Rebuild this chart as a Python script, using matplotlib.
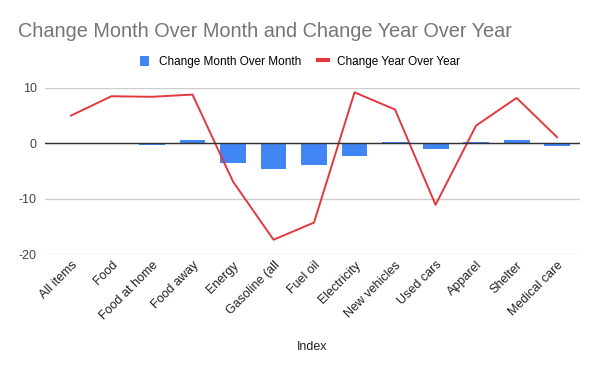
import numpy as np
import matplotlib.pyplot as plt

# --- DATA ---
categories = ["All items", "Food", "Food at home", "Food away", "Energy",
              "Gasoline (all", "Fuel oil", "Electricity", "New vehicles",
              "Used cars", "Apparel", "Shelter", "Medical care"]
change_mom = [0.1, 0.0, -0.3, 0.6, -3.5, -4.6, -4.0, -2.3, 0.2, -1.0, 0.2, 0.6, -0.5]
change_yoy = [5.0, 8.5, 8.4, 8.8, -6.9, -17.4, -14.3, 9.2, 6.1, -11.1, 3.2, 8.2, 1.1]
y_ticks = [10, 0, -10, -20]

plt.rcParams['font.family'] = ['Liberation Sans', 'DejaVu Sans']

fig = plt.figure(figsize=(6, 3.71), dpi=100)
ax = fig.add_axes([0.075, 0.315, 0.892, 0.448])

x = np.arange(len(categories))
bars = ax.bar(x, change_mom, width=0.64, color='#4285F4', zorder=3,
              label='Change Month Over Month')
line, = ax.plot(x, change_yoy, color='#E0393E', lw=1.4, zorder=4,
                label='Change Year Over Year')

ax.set_xlim(-0.64, 12.57)
ax.set_ylim(-20, 10)
ax.set_yticks(y_ticks)
ax.set_yticklabels([str(v) for v in y_ticks])
ax.grid(axis='y', color='#cccccc', lw=1, zorder=0)
ax.axhline(0, color='#333333', lw=1, zorder=5)
for s in ax.spines.values():
    s.set_visible(False)
ax.tick_params(axis='both', length=0, labelsize=9, colors='#444444')
ax.tick_params(axis='y', pad=6)

ax.set_xticks(x)
ax.set_xticklabels(categories, rotation=45, ha='right', rotation_mode='anchor',
                   color='#222222')
ax.set_xlabel('Index', fontsize=9, color='#222222', labelpad=14)

fig.text(0.03, 0.915, 'Change Month Over Month and Change Year Over Year',
         fontsize=14.3, color='#757575', ha='left', va='center')

leg = fig.legend(handles=[bars, line], loc='center', bbox_to_anchor=(0.5, 0.833),
                 ncol=2, frameon=False, fontsize=8.5, handlelength=0.8,
                 handleheight=1.0, columnspacing=1.5, handletextpad=0.8)
leg.get_lines()[0].set_linewidth(3) if leg.get_lines() else None

fig.savefig('out.png', dpi=100, facecolor='white')
